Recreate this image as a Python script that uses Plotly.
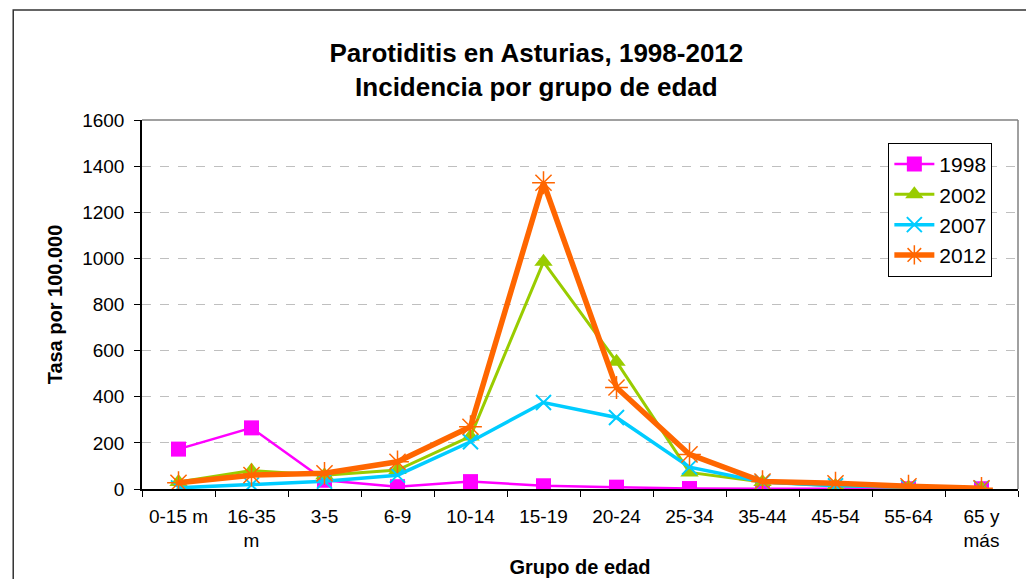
import plotly.graph_objects as go

groups = ["0-15 m", "16-35<br>m", "3-5", "6-9", "10-14", "15-19", "20-24",
          "25-34", "35-44", "45-54", "55-64", "65 y<br>más"]

rate_1998 = [173, 265, 38, 10, 32, 14, 8, 2, 1, 1, 1, 1]
rate_2002 = [30, 80, 60, 82, 228, 985, 552, 72, 30, 14, 7, 3]
rate_2007 = [5, 18, 34, 60, 205, 375, 310, 95, 30, 14, 7, 3]
rate_2012 = [27, 60, 68, 118, 270, 1328, 440, 150, 32, 25, 12, 3]

FONT = "Liberation Sans, Arial, sans-serif"

fig = go.Figure()

series = [
    ("1998", rate_1998, "#FF00FF", "square", 15, 2.5, 0),
    ("2002", rate_2002, "#99CC00", "triangle-up", 16, 3, 0),
    ("2007", rate_2007, "#00CCFF", "x-thin-open", 15, 3.5, 2),
    ("2012", rate_2012, "#FF6600", "asterisk-open", 19, 5.5, 1.5),
]
for name, vals, color, symbol, size, lw, mlw in series:
    fig.add_trace(
        go.Scatter(
            x=groups,
            y=vals,
            name=name,
            mode="lines+markers",
            line=dict(color=color, width=lw),
            marker=dict(symbol=symbol, size=size, color=color,
                        line=dict(color=color, width=mlw)),
        )
    )

# the page body adds an 8px offset, so the canvas is 8px smaller each way
fig.update_layout(
    width=1026,
    height=571,
    margin=dict(l=134, r=16, t=112, b=90),
    paper_bgcolor="white",
    plot_bgcolor="white",
    font=dict(family=FONT, size=19, color="black"),
    title=dict(
        text="<b>Parotiditis en Asturias, 1998-2012<br>Incidencia por grupo de edad</b>",
        x=0.515, xanchor="center", y=0.905, yanchor="middle",
        font=dict(family=FONT, size=26, color="black"),
    ),
    legend=dict(
        x=0.852, y=0.938, xanchor="left", yanchor="top",
        bordercolor="black", borderwidth=1, bgcolor="white",
        font=dict(family=FONT, size=21),
        itemwidth=40, tracegroupgap=4,
    ),
    showlegend=True,
)

fig.update_xaxes(
    type="category",
    title=dict(text="<b>Grupo de edad</b>", font=dict(family=FONT, size=20), standoff=10),
    automargin=False,
    tickson="boundaries",
    ticks="outside",
    ticklen=6,
    tickcolor="black",
    ticklabelstandoff=9,
    showline=True,
    linecolor="black",
    linewidth=1.5,
    showgrid=False,
    tickfont=dict(family=FONT, size=19),
    range=[-0.5, 11.5],
)

fig.update_yaxes(
    title=dict(text="<b>Tasa por 100.000</b>", font=dict(family=FONT, size=20), standoff=14),
    automargin=False,
    range=[0, 1600],
    dtick=200,
    ticks="outside",
    ticklen=6,
    tickcolor="black",
    ticklabelstandoff=6,
    showline=True,
    linecolor="black",
    linewidth=1.5,
    showgrid=True,
    gridcolor="#BFBFBF",
    griddash="dash",
    zeroline=False,
    tickfont=dict(family=FONT, size=19),
)

# plot area top/right border
fig.add_shape(type="line", xref="paper", yref="paper", x0=0, x1=1, y0=1, y1=1,
              line=dict(color="#808080", width=1.5))
fig.add_shape(type="line", xref="paper", yref="paper", x0=1, x1=1, y0=0, y1=1,
              line=dict(color="#808080", width=1.5))
# outer chart border
fig.add_shape(type="rect", xref="paper", yref="paper",
              x0=-0.147, x1=1.1, y0=-0.4, y1=1.298,
              line=dict(color="#333333", width=1.5), layer="below")

fig.write_html("out.html")
